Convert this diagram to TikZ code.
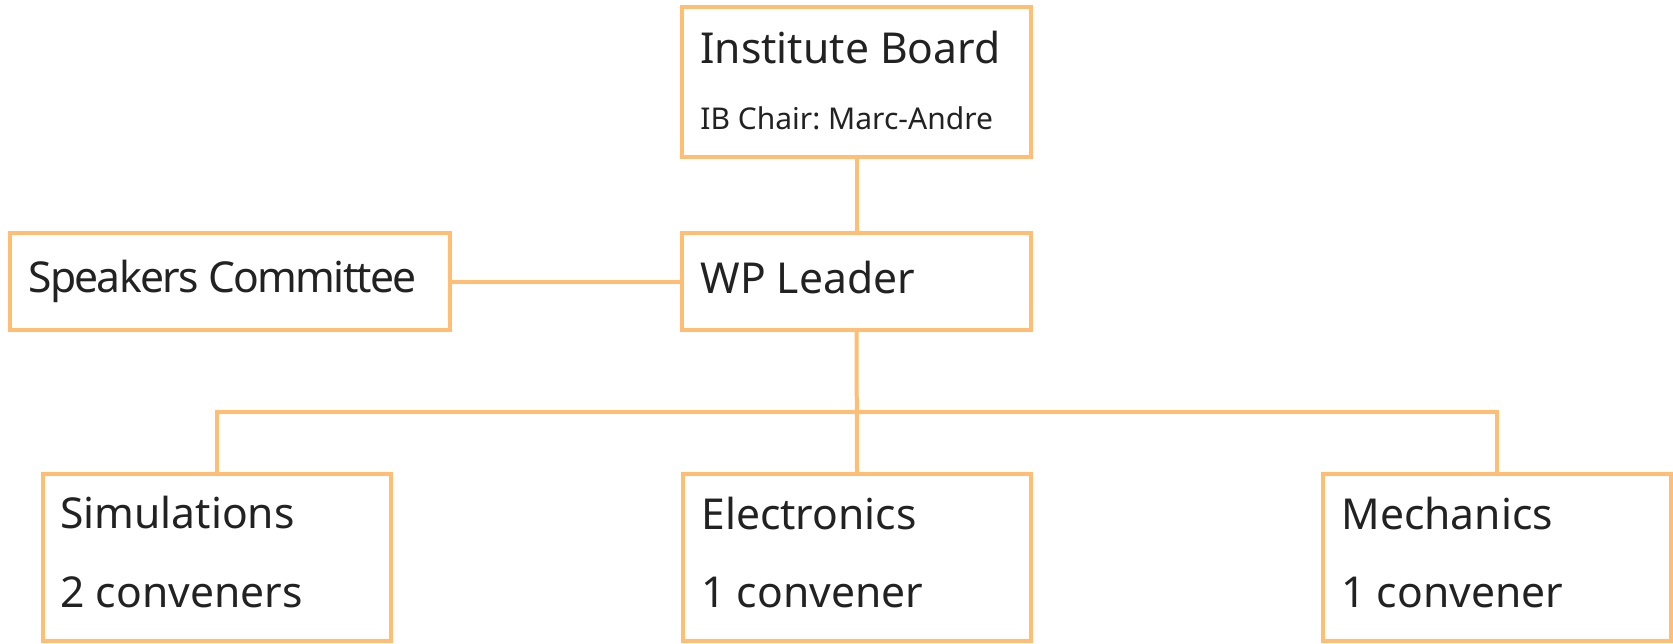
\documentclass[tikz,border=0pt]{standalone}
\usepackage{fontspec}
\setmainfont{Noto Sans}
\frenchspacing
\definecolor{boxline}{HTML}{FFBE73}
\definecolor{txt}{HTML}{222222}
\begin{document}
\begin{tikzpicture}[x=0.5pt,y=-0.5pt,
  boxst/.style={draw=boxline, line width=2pt, fill=white},
  conn/.style={draw=boxline, line width=2pt},
  big/.style={anchor=base west, inner sep=0pt, text=txt, font=\fontsize{21.3}{26}\selectfont},
  small/.style={anchor=base west, inner sep=0pt, text=txt, font=\fontsize{15}{18}\selectfont}]
\useasboundingbox (0,0) rectangle (1673,643);
% boxes
\path[boxst] (682,7) rectangle (1031,157);
\node[inner sep=0pt, minimum width=174.5pt, minimum height=75pt] (ib) at (856.5,82) {};
\path[boxst] (682,233) rectangle (1031,330);
\node[inner sep=0pt, minimum width=174.5pt, minimum height=48.5pt] (wp) at (856.5,281.5) {};
\path[boxst] (10,233) rectangle (450,330);
\node[inner sep=0pt, minimum width=220pt, minimum height=48.5pt] (sc) at (230,281.5) {};
\path[boxst] (43,474) rectangle (391,641);
\node[inner sep=0pt, minimum width=174pt, minimum height=83.5pt] (sim) at (217,557.5) {};
\path[boxst] (683,474) rectangle (1031,641);
\node[inner sep=0pt, minimum width=174pt, minimum height=83.5pt] (el) at (857,557.5) {};
\path[boxst] (1323,474) rectangle (1671,641);
\node[inner sep=0pt, minimum width=174pt, minimum height=83.5pt] (mech) at (1497,557.5) {};
\coordinate (bus) at (857,412);
% connectors
\draw[conn] (ib.south) -- (wp.north);
\draw[conn] (sc.east) -- (wp.west);
\draw[conn] (wp.south) -- (el.north);
\draw[conn] (sim.north) |- (bus) -| (mech.north);
% texts
\node[big] (t1) at (700,63) {Institute Board};
\node[small] (t2) at (700,129) {IB Chair: Marc-Andre};
\node[big] (t3) at (700,293) {WP Leader};
\node[big] (t4) at (28,292) {\addfontfeature{LetterSpace=-4}Speakers Committee};
\node[big] (t5) at (60,528) {Simulations};
\node[big] (t6) at (60,607) {2 conveners};
\node[big] (t7) at (701,529) {Electronics};
\node[big] (t8) at (701,607) {1 convener};
\node[big] (t9) at (1341,529) {Mechanics};
\node[big] (t10) at (1341,607) {1 convener};
\end{tikzpicture}
\end{document}
